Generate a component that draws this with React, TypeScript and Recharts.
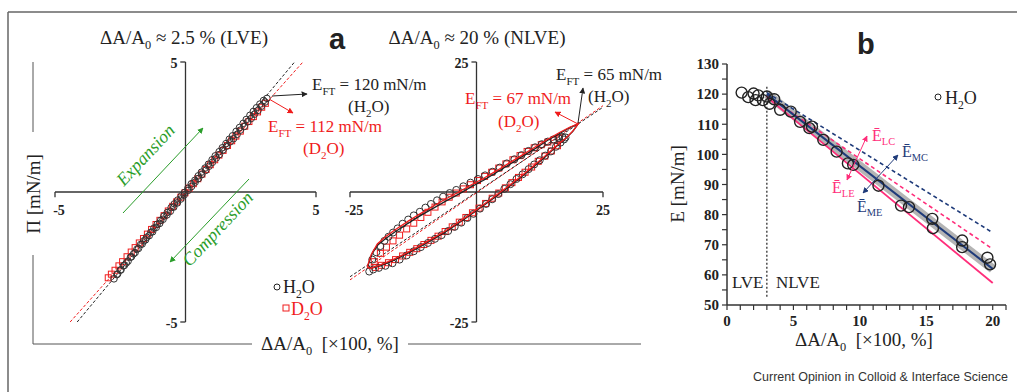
import React from 'react';
import { ScatterChart, Scatter, XAxis, YAxis, ReferenceLine, ReferenceDot } from 'recharts';

// panel a, left: small amplitude (LVE), Pi vs dA/A0
const lveH2oUpX = [-2.74, -2.63, -2.5, -2.38, -2.27, -2.11, -1.99, -1.86, -1.72, -1.6, -1.49, -1.33, -1.21, -1.08, -0.95, -0.83, -0.7, -0.55, -0.43, -0.3, -0.16, -0.04, 0.09, 0.22, 0.36, 0.49, 0.61, 0.75, 0.88, 1.02, 1.14, 1.29, 1.41, 1.55, 1.68, 1.8, 1.94, 2.07, 2.21, 2.33, 2.47, 2.6, 2.72, 2.85, 2.99, 3.12];
const lveH2oUpY = [-3.34, -3.18, -3.01, -2.84, -2.73, -2.51, -2.38, -2.2, -2.02, -1.88, -1.74, -1.55, -1.39, -1.24, -1.09, -0.93, -0.79, -0.6, -0.46, -0.31, -0.15, -0.02, 0.14, 0.31, 0.45, 0.62, 0.76, 0.92, 1.07, 1.24, 1.39, 1.55, 1.7, 1.86, 2.03, 2.16, 2.33, 2.48, 2.64, 2.79, 2.95, 3.1, 3.24, 3.38, 3.52, 3.6];
const lveH2oDnX = [3.05, 2.91, 2.78, 2.64, 2.52, 2.38, 2.25, 2.1, 1.98, 1.84, 1.71, 1.57, 1.44, 1.3, 1.18, 1.03, 0.9, 0.77, 0.62, 0.5, 0.37, 0.23, 0.1, -0.05, -0.18, -0.31, -0.45, -0.58, -0.71, -0.86, -0.99, -1.12, -1.26, -1.39, -1.53, -1.66, -1.8, -1.93, -2.07, -2.2, -2.34, -2.47, -2.6];
const lveH2oDnY = [3.46, 3.3, 3.14, 2.99, 2.83, 2.7, 2.52, 2.38, 2.22, 2.05, 1.93, 1.76, 1.62, 1.44, 1.31, 1.14, 0.99, 0.83, 0.67, 0.52, 0.38, 0.21, 0.06, -0.11, -0.27, -0.42, -0.58, -0.74, -0.88, -1.05, -1.21, -1.36, -1.53, -1.68, -1.84, -2.0, -2.17, -2.33, -2.49, -2.66, -2.82, -2.99, -3.15];
const lveD2oX = [-2.96, -2.84, -2.7, -2.55, -2.41, -2.24, -2.08, -1.93, -1.77, -1.61, -1.46, -1.3, -1.13, -0.98, -0.82, -0.66, -0.49, -0.34, -0.18, -0.02, 0.14, 0.3, 0.47, 0.63, 0.79, 0.95, 1.12, 1.28, 1.44, 1.61, 1.77, 1.93, 2.1, 2.27, 2.43, 2.6, 2.76, 2.92, 3.06];
const lveD2oY = [-3.3, -3.16, -3.01, -2.84, -2.68, -2.49, -2.31, -2.14, -1.96, -1.79, -1.62, -1.44, -1.25, -1.09, -0.91, -0.73, -0.55, -0.38, -0.2, -0.03, 0.15, 0.32, 0.51, 0.69, 0.87, 1.05, 1.24, 1.42, 1.6, 1.79, 1.97, 2.15, 2.34, 2.53, 2.71, 2.9, 3.08, 3.26, 3.41];
const lveFitH2oX = [-4.15, 4.18];
const lveFitH2oY = [-5, 5];
const lveFitD2oX = [-4.42, 4.5];
const lveFitD2oY = [-5, 5];

// panel a, right: large amplitude (NLVE)
const nlH2oUpX = [-20.6, -19.8, -19.0, -18.2, -17.4, -16.5, -15.6, -14.6, -13.5, -12.4, -11.2, -10.1, -9.0, -7.8, -6.6, -5.3, -4.0, -2.6, -1.2, 0.3, 1.7, 3.2, 4.6, 6.0, 7.5, 8.9, 10.3, 11.6, 12.9, 14.1, 15.2, 16.2, 17.0, 17.6];
const nlH2oUpY = [-13.0, -11.6, -10.4, -9.4, -8.6, -7.8, -7.0, -6.1, -5.3, -4.5, -3.8, -3.0, -2.3, -1.6, -0.9, -0.2, 0.4, 1.1, 1.8, 2.5, 3.2, 3.9, 4.7, 5.5, 6.3, 7.1, 7.9, 8.6, 9.2, 9.7, 10.1, 10.4, 10.6, 10.5];
const nlH2oDnX = [17.3, 16.6, 15.7, 14.7, 13.6, 12.5, 11.4, 10.3, 9.1, 7.9, 6.7, 5.5, 4.3, 3.1, 1.9, 0.7, -0.6, -1.8, -3.0, -4.3, -5.6, -6.9, -8.2, -9.6, -11.0, -12.4, -13.8, -15.2, -16.6, -18.0, -19.3, -20.4, -21.2];
const nlH2oDnY = [10.1, 9.5, 8.7, 7.8, 7.0, 6.1, 5.3, 4.4, 3.4, 2.5, 1.5, 0.6, -0.4, -1.4, -2.3, -3.2, -4.2, -5.0, -5.9, -6.7, -7.5, -8.3, -9.0, -9.8, -10.6, -11.4, -12.2, -13.0, -13.7, -14.2, -14.6, -14.9, -15.3];
const nlD2oUpX = [-20.2, -19.0, -17.8, -16.5, -15.2, -13.8, -12.4, -11.0, -9.6, -8.2, -6.8, -5.4, -4.0, -2.6, -1.2, 0.2, 1.6, 3.0, 4.4, 5.8, 7.2, 8.6, 10.0, 11.4, 12.8, 14.1, 15.3, 16.4];
const nlD2oUpY = [-13.4, -11.8, -10.6, -9.4, -8.3, -7.1, -6.0, -4.9, -3.9, -2.9, -1.9, -1.0, -0.2, 0.6, 1.4, 2.2, 3.0, 3.8, 4.6, 5.4, 6.2, 7.0, 7.8, 8.5, 9.1, 9.6, 10.0, 10.3];
const nlD2oDnX = [16.0, 14.8, 13.5, 12.2, 10.9, 9.6, 8.3, 7.0, 5.7, 4.4, 3.1, 1.8, 0.5, -0.8, -2.1, -3.4, -4.8, -6.2, -7.6, -9.0, -10.4, -11.8, -13.2, -14.6, -16.0, -17.4, -18.8, -20.0];
const nlD2oDnY = [8.9, 7.9, 6.9, 5.9, 4.8, 3.8, 2.8, 1.8, 0.8, -0.2, -1.2, -2.2, -3.1, -4.0, -4.9, -5.8, -6.7, -7.6, -8.5, -9.3, -10.1, -10.9, -11.6, -12.3, -13.0, -13.6, -14.1, -14.5];
const nlLoopH2oX = [-21.4, -20.6, -19.5, -18.0, -16.0, -13.5, -11.0, -8.5, -6.0, -3.5, -1.0, 1.5, 4.0, 6.5, 9.0, 11.5, 14.0, 16.5, 18.5, 20.1, 19.0, 17.5, 15.5, 13.5, 11.0, 8.5, 6.0, 3.5, 1.0, -1.5, -4.0, -6.5, -9.0, -11.5, -14.0, -16.5, -19.0, -21.0, -21.4];
const nlLoopH2oY = [-14.0, -11.8, -10.2, -9.0, -7.6, -6.0, -4.5, -3.1, -1.7, -0.4, 1.0, 2.3, 3.8, 5.3, 6.8, 8.3, 9.9, 11.3, 12.4, 13.1, 11.6, 10.2, 8.5, 6.7, 4.6, 2.6, 0.7, -1.1, -2.9, -4.6, -6.3, -7.9, -9.3, -10.7, -12.0, -13.2, -14.2, -14.7, -14.0];
const nlLoopD2oX = [-21.6, -20.8, -19.6, -18.0, -16.0, -13.5, -11.0, -8.5, -6.0, -3.5, -1.0, 1.5, 4.0, 6.5, 9.0, 11.5, 14.0, 16.5, 18.5, 20.1, 19.2, 17.8, 15.8, 13.5, 11.0, 8.5, 6.0, 3.5, 1.0, -1.5, -4.0, -6.5, -9.0, -11.5, -14.0, -16.5, -19.0, -21.0, -21.6];
const nlLoopD2oY = [-14.4, -12.0, -10.0, -8.6, -7.2, -5.6, -4.1, -2.7, -1.3, 0.0, 1.4, 2.7, 4.1, 5.6, 7.1, 8.6, 10.1, 11.5, 12.5, 13.1, 11.9, 10.5, 8.9, 6.9, 4.8, 2.8, 0.9, -0.9, -2.7, -4.4, -6.1, -7.7, -9.1, -10.5, -11.8, -13.0, -14.0, -14.7, -14.4];
const nlFitH2oX = [-25, 25];
const nlFitH2oY = [-16.3, 16.3];
const nlFitD2oX = [-25, 25];
const nlFitD2oY = [-16.9, 16.6];

// panel b: E vs dA/A0
const bX = [1.1, 1.6, 2.0, 2.15, 2.35, 2.7, 3.0, 3.2, 3.55, 4.0, 4.8, 5.5, 6.2, 6.4, 7.25, 8.25, 9.1, 9.5, 11.4, 13.1, 13.7, 15.45, 15.5, 17.7, 17.7, 19.6, 19.8];
const bY = [120.5, 119.0, 120.2, 118.0, 119.6, 118.0, 119.2, 116.8, 118.3, 114.8, 114.2, 110.8, 108.7, 109.2, 104.8, 100.9, 97.0, 96.5, 89.6, 83.0, 82.5, 78.6, 75.5, 71.4, 69.2, 65.7, 63.5];
const fitX = [3, 20];
const fitME = [120, 62];
const fitLE = [119, 57.3];
const fitLC = [119.5, 68.6];
const fitMC = [120.5, 74];
const bXTicks = [0, 1, 2, 3, 4, 5, 6, 7, 8, 9, 10, 11, 12, 13, 14, 15, 16, 17, 18, 19, 20, 21];
const bYTicks = [50, 55, 60, 65, 70, 75, 80, 85, 90, 95, 100, 105, 110, 115, 120, 125, 130];

const SERIF = '"Liberation Serif", "Times New Roman", serif';
const SANS = '"Liberation Sans", Arial, sans-serif';
const INK = '#222';
const RED = '#f01c1c';
const PINK = '#ff2d7a';
const NAVY = '#1f3b7a';
const GREEN = '#2a9d2a';

const zip = (xs: number[], ys: number[]) => xs.map((x, i) => ({ x, y: ys[i] }));

const circle = (r: number, stroke: string, sw = 1) => (p: any) => (
  <circle cx={p.cx} cy={p.cy} r={r} fill="none" stroke={stroke} strokeWidth={sw} />
);
const square = (s: number, stroke: string) => (p: any) => (
  <rect x={p.cx - s / 2} y={p.cy - s / 2} width={s} height={s} fill="none" stroke={stroke} strokeWidth={1} />
);
const noShape = () => <g />;

const tickText = (text: string, dx: number, dy: number, anchor: string = 'middle') => (p: any) => {
  const vb = p.viewBox || { x: 0, y: 0 };
  return (
    <text x={vb.x + dx} y={vb.y + dy} textAnchor={anchor} fontSize={14} fontWeight={700} fill={INK} fontFamily={SERIF}>
      {text}
    </text>
  );
};

// axes crossing at the origin, with end ticks and end labels
const crossAxes = (m: number, t: number, lab: string, nlab: string) => [
  <ReferenceLine key="ah" segment={[{ x: -m, y: 0 }, { x: m, y: 0 }]} stroke="#333" strokeWidth={1.3} />,
  <ReferenceLine key="av" segment={[{ x: 0, y: -m }, { x: 0, y: m }]} stroke="#333" strokeWidth={1.3} />,
  <ReferenceLine key="t1" segment={[{ x: -m, y: 0 }, { x: -m, y: -t }]} stroke="#333" strokeWidth={1.3} />,
  <ReferenceLine key="t2" segment={[{ x: m, y: 0 }, { x: m, y: -t }]} stroke="#333" strokeWidth={1.3} />,
  <ReferenceLine key="t3" segment={[{ x: 0, y: m }, { x: -t, y: m }]} stroke="#333" strokeWidth={1.3} />,
  <ReferenceLine key="t4" segment={[{ x: 0, y: -m }, { x: -t, y: -m }]} stroke="#333" strokeWidth={1.3} />,
  <ReferenceDot key="l1" x={-m} y={0} r={0} stroke="none" label={tickText(nlab, 4, 23)} />,
  <ReferenceDot key="l2" x={m} y={0} r={0} stroke="none" label={tickText(lab, 0, 23)} />,
  <ReferenceDot key="l3" x={0} y={m} r={0} stroke="none" label={tickText(lab, -8, 6, 'end')} />,
  <ReferenceDot key="l4" x={0} y={-m} r={0} stroke="none" label={tickText(nlab, -8, 6, 'end')} />,
];

const fitLine = (xs: number[], ys: number[], stroke: string, dash?: string, width = 1.2) => (
  <Scatter
    data={zip(xs, ys)}
    line={{ stroke, strokeWidth: width, strokeDasharray: dash }}
    lineType="joint"
    shape={noShape}
    isAnimationActive={false}
  />
);

type Part = string | { s: string };
const Rich = ({ x, y, parts, size = 17, fill = INK, anchor = 'start' }: { x: number; y: number; parts: Part[]; size?: number; fill?: string; anchor?: string }) => {
  const shift = size * 0.28;
  let down = false;
  return (
    <text x={x} y={y} fill={fill} fontSize={size} fontFamily={SERIF} textAnchor={anchor as any} style={{ whiteSpace: 'pre' }}>
      {parts.map((p, i) => {
        const sub = typeof p !== 'string';
        const dy = sub && !down ? shift : !sub && down ? -shift : 0;
        down = sub;
        return (
          <tspan key={i} dy={dy} fontSize={sub ? size * 0.65 : size}>
            {sub ? (p as { s: string }).s : (p as string)}
          </tspan>
        );
      })}
    </text>
  );
};

const marker = (id: string, color: string) => (
  <marker id={id} viewBox="0 0 10 10" refX="9" refY="5" markerWidth="6" markerHeight="6" orient="auto-start-reverse">
    <path d="M0,0 L10,5 L0,10 z" fill={color} />
  </marker>
);

const App = () => {
  return (
    <div style={{ position: 'absolute', left: 0, top: 0, width: 1017, height: 392, background: '#fff', fontFamily: SERIF }}>
      <div style={{ position: 'absolute', left: 35, top: 42 }}>
        <ScatterChart width={301} height={300} margin={{ top: 20, right: 20, bottom: 20, left: 20 }}>
          <XAxis type="number" dataKey="x" domain={[-5, 5]} allowDataOverflow hide />
          <YAxis type="number" dataKey="y" domain={[-5, 5]} allowDataOverflow hide />
          {crossAxes(5, 0.2, '5', '-5')}
          {fitLine(lveFitD2oX, lveFitD2oY, RED, '3 2', 1)}
          {fitLine(lveFitH2oX, lveFitH2oY, INK, '3 2', 1)}
          <Scatter data={zip(lveD2oX, lveD2oY)} shape={square(6, RED)} isAnimationActive={false} />
          <Scatter data={zip(lveH2oUpX, lveH2oUpY)} shape={circle(3.3, '#333')} isAnimationActive={false} />
          <Scatter data={zip(lveH2oDnX, lveH2oDnY)} shape={circle(3.3, '#333')} isAnimationActive={false} />
        </ScatterChart>
      </div>

      <div style={{ position: 'absolute', left: 330, top: 42 }}>
        <ScatterChart width={293} height={300} margin={{ top: 20, right: 20, bottom: 20, left: 20 }}>
          <XAxis type="number" dataKey="x" domain={[-25, 25]} allowDataOverflow hide />
          <YAxis type="number" dataKey="y" domain={[-25, 25]} allowDataOverflow hide />
          {crossAxes(25, 1, '25', '-25')}
          {fitLine(nlFitD2oX, nlFitD2oY, RED, '3 2', 1)}
          {fitLine(nlFitH2oX, nlFitH2oY, INK, '3 2', 1)}
          <Scatter data={zip(nlD2oUpX, nlD2oUpY)} shape={square(6, RED)} isAnimationActive={false} />
          <Scatter data={zip(nlD2oDnX, nlD2oDnY)} shape={square(6, RED)} isAnimationActive={false} />
          <Scatter data={zip(nlH2oUpX, nlH2oUpY)} shape={circle(3.5, '#333')} isAnimationActive={false} />
          <Scatter data={zip(nlH2oDnX, nlH2oDnY)} shape={circle(3.5, '#333')} isAnimationActive={false} />
          {fitLine(nlLoopH2oX, nlLoopH2oY, INK, undefined, 1.3)}
          {fitLine(nlLoopD2oX, nlLoopD2oY, RED, undefined, 1.3)}
        </ScatterChart>
      </div>

      <div style={{ position: 'absolute', left: 660, top: 54 }}>
        <ScatterChart width={351} height={281} margin={{ top: 10, right: 5, bottom: 0, left: 0 }}>
          <XAxis
            type="number"
            dataKey="x"
            domain={[0, 21]}
            ticks={bXTicks}
            interval={0}
            tickFormatter={(v: number) => (v % 5 === 0 ? String(v) : '')}
            height={30}
            tickSize={5}
            tickMargin={5}
            axisLine={{ stroke: '#333', strokeWidth: 1.5 }}
            tickLine={{ stroke: '#333', strokeWidth: 1.2 }}
            tick={{ fontSize: 15, fontWeight: 700, fill: INK, fontFamily: SERIF }}
          />
          <YAxis
            type="number"
            dataKey="y"
            domain={[50, 130]}
            ticks={bYTicks}
            interval={0}
            tickFormatter={(v: number) => (v % 10 === 0 ? String(v) : '')}
            width={67}
            tickSize={5}
            tickMargin={3}
            axisLine={{ stroke: '#333', strokeWidth: 1.5 }}
            tickLine={{ stroke: '#333', strokeWidth: 1.2 }}
            tick={{ fontSize: 15, fontWeight: 700, fill: INK, fontFamily: SERIF }}
          />
          <ReferenceLine segment={[{ x: 3, y: 52.7 }, { x: 3, y: 123 }]} stroke={INK} strokeWidth={1.2} strokeDasharray="2 2" />
          {fitLine(fitX, fitME, '#b4b4b4', undefined, 9)}
          {fitLine(fitX, fitMC, NAVY, '4 3', 1.6)}
          {fitLine(fitX, fitLC, PINK, '4 3', 1.6)}
          {fitLine(fitX, fitLE, PINK, undefined, 1.8)}
          {fitLine(fitX, fitME, NAVY, undefined, 2)}
          <Scatter data={zip(bX, bY)} shape={circle(5.5, INK, 1.4)} isAnimationActive={false} />
        </ScatterChart>
      </div>

      <svg width={1017} height={392} style={{ position: 'absolute', left: 0, top: 0, pointerEvents: 'none' }}>
        <defs>
          {marker('ah-k', INK)}
          {marker('ah-r', RED)}
          {marker('ah-g', GREEN)}
          {marker('ah-p', PINK)}
          {marker('ah-n', NAVY)}
        </defs>
        <line x1={8} y1={12} x2={1017} y2={12} stroke="#666" strokeWidth={1.5} />
        <line x1={8} y1={12} x2={8} y2={392} stroke="#666" strokeWidth={1.5} />

        {/* panel a frame + shared labels */}
        <line x1={33} y1={62} x2={33} y2={132} stroke="#555" strokeWidth={1} />
        <line x1={33} y1={255} x2={33} y2={344} stroke="#555" strokeWidth={1} />
        <line x1={33} y1={344} x2={252} y2={344} stroke="#555" strokeWidth={1} />
        <line x1={408} y1={344} x2={641} y2={344} stroke="#555" strokeWidth={1} />
        <text x={33} y={194} transform="rotate(-90 33 194)" textAnchor="middle" dominantBaseline="central" fontSize={19} fill={INK}>
          Π [mN/m]
        </text>
        <Rich x={330} y={350} anchor="middle" size={19} parts={['ΔA/A', { s: '0' }, '\u00a0 [×100, %]']} />
        <Rich x={184} y={44} anchor="middle" size={19} parts={['ΔA/A', { s: '0' }, ' ≈ 2.5 % (LVE)']} />
        <Rich x={477} y={44} anchor="middle" size={19} parts={['ΔA/A', { s: '0' }, ' ≈ 20 % (NLVE)']} />
        <text x={329} y={49} fontFamily={SANS} fontWeight={700} fontSize={29} fill={INK}>a</text>

        {/* LVE annotations */}
        <line x1={272} y1={96} x2={307} y2={94} stroke={INK} strokeWidth={1} markerEnd="url(#ah-k)" />
        <line x1={269} y1={99} x2={293} y2={113} stroke={RED} strokeWidth={1} markerEnd="url(#ah-r)" />
        <Rich x={312} y={90} parts={['E', { s: 'FT' }, ' = 120 mN/m']} />
        <Rich x={348} y={112} parts={['(H', { s: '2' }, 'O)']} />
        <Rich x={268} y={132} fill={RED} parts={['E', { s: 'FT' }, ' = 112 mN/m']} />
        <Rich x={303} y={154} fill={RED} parts={['(D', { s: '2' }, 'O)']} />
        <line x1={123} y1={213} x2={203} y2={128} stroke={GREEN} strokeWidth={1} markerEnd="url(#ah-g)" />
        <line x1={249} y1={179} x2={170} y2={262} stroke={GREEN} strokeWidth={1} markerEnd="url(#ah-g)" />
        <text x={150} y={159} transform="rotate(-47 150 159)" textAnchor="middle" fontStyle="italic" fontSize={18} fill={GREEN}>Expansion</text>
        <text x={222} y={233} transform="rotate(-47 222 233)" textAnchor="middle" fontStyle="italic" fontSize={18} fill={GREEN}>Compression</text>
        <circle cx={277} cy={287} r={3} fill="none" stroke={INK} strokeWidth={1} />
        <Rich x={283} y={293} size={18} parts={['H', { s: '2' }, 'O']} />
        <rect x={283} y={305} width={6} height={6} fill="none" stroke={RED} strokeWidth={1} />
        <Rich x={291} y={315} size={18} fill={RED} parts={['D', { s: '2' }, 'O']} />

        {/* NLVE annotations */}
        <line x1={578} y1={123} x2={583} y2={88} stroke={INK} strokeWidth={1} markerEnd="url(#ah-k)" />
        <line x1={578} y1={124} x2={555} y2={112} stroke={RED} strokeWidth={1} markerEnd="url(#ah-r)" />
        <Rich x={556} y={80} parts={['E', { s: 'FT' }, ' = 65 mN/m']} />
        <Rich x={588} y={102} parts={['(H', { s: '2' }, 'O)']} />
        <Rich x={465} y={104} fill={RED} parts={['E', { s: 'FT' }, ' = 67 mN/m']} />
        <Rich x={498} y={127} fill={RED} parts={['(D', { s: '2' }, 'O)']} />

        {/* panel b labels */}
        <text x={857} y={54} fontFamily={SANS} fontWeight={700} fontSize={29} fill={INK}>b</text>
        <text x={677} y={184} transform="rotate(-90 677 184)" textAnchor="middle" dominantBaseline="central" fontSize={19} fill={INK}>
          E [mN/m]
        </text>
        <Rich x={864} y={346} anchor="middle" size={19} parts={['ΔA/A', { s: '0' }, '\u00a0 [×100, %]']} />
        <circle cx={938} cy={97} r={3} fill="none" stroke={INK} strokeWidth={1} />
        <Rich x={945} y={104} size={18} parts={['H', { s: '2' }, 'O']} />
        <text x={732} y={288} fontSize={17} fill={INK}>LVE</text>
        <text x={776} y={288} fontSize={17} fill={INK}>NLVE</text>
        <line x1={847} y1={180} x2={867} y2={136} stroke={PINK} strokeWidth={1} markerStart="url(#ah-p)" markerEnd="url(#ah-p)" />
        <line x1={863} y1={193} x2={898} y2={155} stroke={NAVY} strokeWidth={1} markerStart="url(#ah-n)" markerEnd="url(#ah-n)" />
        <Rich x={872} y={141} size={16} fill={PINK} parts={['Ē', { s: 'LC' }]} />
        <Rich x={902} y={157} size={16} fill={NAVY} parts={['Ē', { s: 'MC' }]} />
        <Rich x={832} y={193} size={16} fill={PINK} parts={['Ē', { s: 'LE' }]} />
        <Rich x={857} y={212} size={16} fill={NAVY} parts={['Ē', { s: 'ME' }]} />

        <text x={1008} y={381} textAnchor="end" fontFamily={SANS} fontSize={12.5} fill="#333">
          Current Opinion in Colloid &amp; Interface Science
        </text>
      </svg>
    </div>
  );
};

export default App;
